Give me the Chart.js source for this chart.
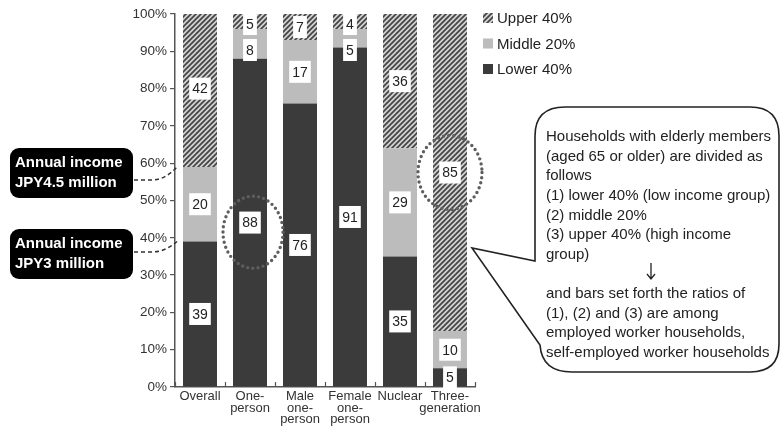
<!DOCTYPE html>
<html>
<head>
<meta charset="utf-8">
<script src="https://cdn.jsdelivr.net/npm/chart.js@4.4.0/dist/chart.umd.min.js"></script>
<style>
  html, body { margin: 0; padding: 0; background: #fff; }
</style>
</head>
<body>
<canvas id="myChart" width="781" height="426"></canvas>
<script>
// categories and values
const categories = [['Overall'], ['One-', 'person'], ['Male', 'one-', 'person'], ['Female', 'one-', 'person'], ['Nuclear'], ['Three-', 'generation']];
const lower40 = [39, 88, 76, 91, 35, 5];
const middle20 = [20, 8, 17, 5, 29, 10];
const upper40 = [42, 5, 7, 4, 36, 85];
const seriesNames = ['Lower 40%', 'Middle 20%', 'Upper 40%'];
const bubbleLines = [
  'Households with elderly members',
  '(aged 65 or older) are divided as',
  'follows',
  '(1) lower 40% (low income group)',
  '(2) middle 20%',
  '(3) upper 40% (high income',
  'group)',
  '',
  'and bars set forth the ratios of',
  '(1), (2) and (3) are among',
  'employed worker households,',
  'self-employed worker households'
];
const incomeBoxes = [['Annual income', 'JPY4.5 million'], ['Annual income', 'JPY3 million']];

const FONT = '"Liberation Sans", Arial, sans-serif';

let makeHatch = () => {
  const c = document.createElement('canvas');
  c.width = 5; c.height = 5;
  const g = c.getContext('2d');
  g.fillStyle = '#d2d2d2';
  g.fillRect(0, 0, 5, 5);
  g.strokeStyle = '#444';
  g.lineWidth = 1.7;
  g.beginPath();
  g.moveTo(-1, 6); g.lineTo(6, -1);
  g.moveTo(-1, 1); g.lineTo(1, -1);
  g.moveTo(4, 6); g.lineTo(6, 4);
  g.stroke();
  return g.createPattern(c, 'repeat');
};

const hatch = makeHatch();
const colLower = '#3b3b3b';
const colMiddle = '#bcbcbc';

// white number boxes on every segment (upper first, so lower ones get pushed down)
const labelBoxes = {
  id: 'labelBoxes',
  afterDatasetsDraw(chart) {
    const ctx = chart.ctx;
    const area = chart.chartArea;
    const n = chart.data.datasets.length;
    ctx.save();
    ctx.font = '14px ' + FONT;
    ctx.textAlign = 'center';
    ctx.textBaseline = 'middle';
    chart.data.labels.forEach((lab, j) => {
      let minTop = area.top - 1;
      for (let i = n - 1; i >= 0; i--) {
        const ds = chart.data.datasets[i];
        const bar = chart.getDatasetMeta(i).data[j];
        const txt = String(ds.data[j]);
        const w = ctx.measureText(txt).width + 6;
        const h = 22;
        const cy = (bar.y + bar.base) / 2;
        let top = cy - h / 2;
        if (top < minTop) top = minTop;
        ctx.fillStyle = '#fff';
        ctx.fillRect(bar.x - w / 2, top, w, h);
        ctx.fillStyle = '#222';
        ctx.fillText(txt, bar.x, top + h / 2 + 1);
        minTop = top + h + 4;
      }
    });
    ctx.restore();
  }
};

// legend, annotations, bubble
const extras = {
  id: 'extras',
  afterDraw(chart) {
    const ctx = chart.ctx;
    const xs = chart.scales.x;
    const ys = chart.scales.y;
    const area = chart.chartArea;
    ctx.save();

    // small x ticks pointing up
    ctx.strokeStyle = '#555';
    ctx.lineWidth = 1.2;
    for (let i = 0; i <= categories.length; i++) {
      const px = Math.round(xs.getPixelForValue(i - 0.5)) + 0.5;
      ctx.beginPath();
      ctx.moveTo(px, area.bottom);
      ctx.lineTo(px, area.bottom - 5);
      ctx.stroke();
    }

    // legend (upper first)
    const legendItems = [[seriesNames[2], hatch], [seriesNames[1], colMiddle], [seriesNames[0], colLower]];
    ctx.font = '15px ' + FONT;
    ctx.textBaseline = 'middle';
    ctx.textAlign = 'left';
    legendItems.forEach((it, k) => {
      const cy = 18 + k * 25.5;
      ctx.fillStyle = it[1];
      ctx.fillRect(483, cy - 5, 10, 10);
      ctx.fillStyle = '#222';
      ctx.fillText(it[0], 497, cy + 1);
    });

    // black income boxes
    const boxTops = [148, 229];
    ctx.font = 'bold 15px ' + FONT;
    incomeBoxes.forEach((lines, k) => {
      const top = boxTops[k];
      ctx.fillStyle = '#000';
      ctx.beginPath();
      ctx.roundRect(10, top, 123, 50, 9);
      ctx.fill();
      ctx.fillStyle = '#fff';
      ctx.fillText(lines[0], 15, top + 15);
      ctx.fillText(lines[1], 15, top + 35);
    });

    // dashed connectors to the Overall boundaries
    const cum1 = lower40[0] + middle20[0];
    const cum2 = lower40[0];
    ctx.strokeStyle = '#333';
    ctx.lineWidth = 1.5;
    ctx.setLineDash([4, 3]);
    [[180, ys.getPixelForValue(cum1)], [252, ys.getPixelForValue(cum2)]].forEach(p => {
      ctx.beginPath();
      ctx.moveTo(134, p[0]);
      ctx.lineTo(152, p[0]);
      ctx.quadraticCurveTo(165, p[0], area.left + 2, p[1]);
      ctx.stroke();
    });

    // dotted ellipses
    ctx.setLineDash([0, 5.2]);
    ctx.lineCap = 'round';
    ctx.lineWidth = 3.4;
    ctx.strokeStyle = '#5e5e5e';
    ctx.beginPath();
    ctx.ellipse(xs.getPixelForValue(1) + 3, ys.getPixelForValue(41.5), 30, 36, 0, 0, Math.PI * 2);
    ctx.stroke();
    ctx.beginPath();
    ctx.ellipse(xs.getPixelForValue(5), ys.getPixelForValue(lower40[5] + middle20[5] + upper40[5] / 2), 32, 37, 0, 0, Math.PI * 2);
    ctx.stroke();

    // speech bubble
    ctx.setLineDash([]);
    ctx.lineCap = 'butt';
    ctx.lineWidth = 1.6;
    ctx.strokeStyle = '#222';
    ctx.fillStyle = '#fff';
    ctx.beginPath();
    ctx.moveTo(565, 107);
    ctx.lineTo(750, 107);
    ctx.quadraticCurveTo(779, 107, 779, 136);
    ctx.lineTo(779, 344);
    ctx.quadraticCurveTo(779, 372, 750, 372);
    ctx.lineTo(572, 372);
    ctx.quadraticCurveTo(542, 372, 540, 345);
    ctx.lineTo(472, 248);
    ctx.lineTo(535, 261);
    ctx.lineTo(535, 136);
    ctx.quadraticCurveTo(535, 107, 565, 107);
    ctx.closePath();
    ctx.fill();
    ctx.stroke();

    ctx.fillStyle = '#222';
    ctx.font = '15px ' + FONT;
    bubbleLines.forEach((ln, k) => {
      ctx.fillText(ln, 546, 137 + k * 19.6);
    });
    // down arrow
    const ax = 651, ay1 = 263, ay2 = 279;
    ctx.lineWidth = 1.3;
    ctx.beginPath();
    ctx.moveTo(ax, ay1); ctx.lineTo(ax, ay2);
    ctx.moveTo(ax - 4, ay2 - 5); ctx.lineTo(ax, ay2); ctx.lineTo(ax + 4, ay2 - 5);
    ctx.stroke();

    ctx.restore();
  }
};

const config = {
  type: 'bar',
  data: {
    labels: categories,
    datasets: [
      { label: seriesNames[0], data: lower40, backgroundColor: colLower },
      { label: seriesNames[1], data: middle20, backgroundColor: colMiddle },
      { label: seriesNames[2], data: upper40, backgroundColor: hatch }
    ]
  },
  options: {
    responsive: false,
    animation: false,
    datasets: { bar: { categoryPercentage: 1, barPercentage: 0.68, borderWidth: 0 } },
    layout: { padding: { left: 0, right: 306, top: 14, bottom: 0 } },
    plugins: { legend: { display: false }, tooltip: { enabled: false } },
    scales: {
      x: {
        stacked: true,
        grid: { display: false, drawTicks: false },
        border: { color: '#555', width: 1.5 },
        ticks: { color: '#333', font: { family: FONT, size: 13, lineHeight: 0.88 }, padding: 4, maxRotation: 0, autoSkip: false },
        afterFit: s => { s.height = 39; }
      },
      y: {
        stacked: true,
        min: 0,
        max: 100,
        ticks: { stepSize: 10, callback: v => v + '%', color: '#333', font: { family: FONT, size: 13.5 }, padding: 3 },
        grid: { drawOnChartArea: false, tickLength: 5, color: '#555', lineWidth: 1.2 },
        border: { color: '#555', width: 1.5 },
        afterFit: s => { s.width = 175; }
      }
    }
  },
  plugins: [labelBoxes, extras]
};

const chart = new Chart(document.getElementById('myChart'), config);
</script>
</body>
</html>
